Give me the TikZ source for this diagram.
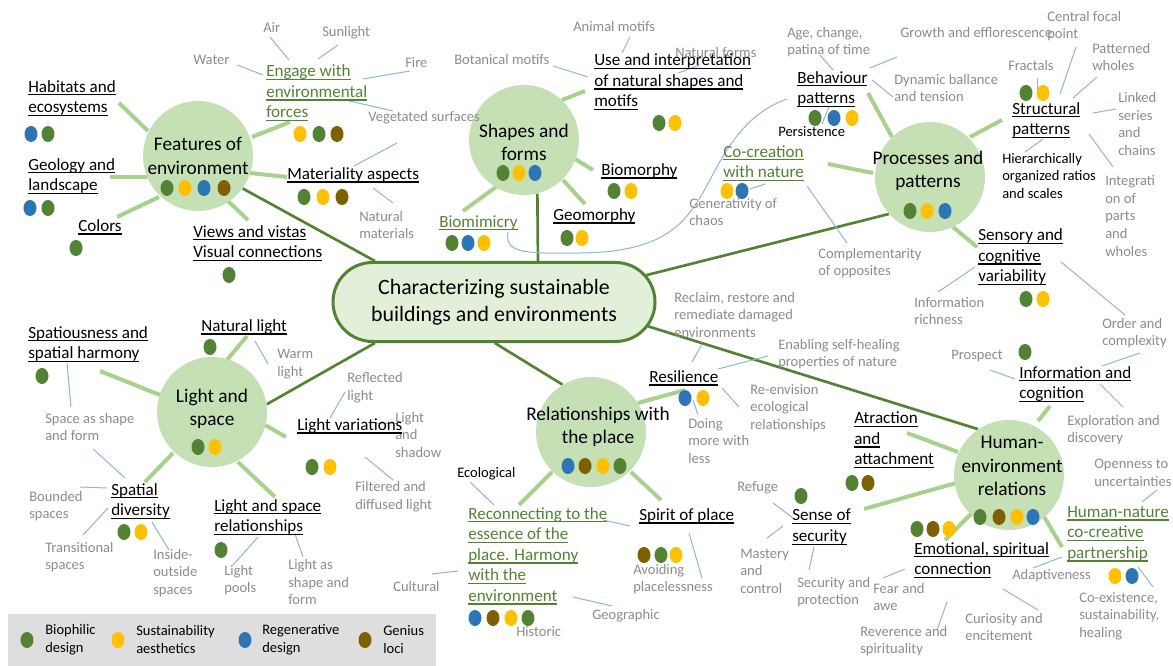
\documentclass[tikz,border=0pt]{standalone}
\usepackage{fontspec}
\setmainfont{Carlito}
\usetikzlibrary{shapes.geometric,shapes.misc,backgrounds}
\definecolor{cG}{HTML}{548235}
\definecolor{cY}{HTML}{FFC000}
\definecolor{cB}{HTML}{2E75B6}
\definecolor{cBn}{HTML}{7F6000}
\definecolor{cCirc}{HTML}{C5E0B4}
\definecolor{cBranch}{HTML}{A9D18E}
\definecolor{cCen}{HTML}{E2F0D9}
\definecolor{cThin}{HTML}{8FB4DE}
\definecolor{cGray}{HTML}{8C8C8C}
\definecolor{cLeg}{HTML}{DEDEDE}
\newcommand\ulx[1]{\setbox0\hbox{#1}\rlap{\rule[-2.4pt]{\wd0}{0.9pt}}\box0}
\newcommand\mainf{\fontsize{12.8}{15.4}\selectfont}
\newcommand\grayf{\fontsize{10.9}{13.2}\selectfont}
\newcommand\legf{\fontsize{10.9}{13.5}\selectfont}
\newcommand\circf{\fontsize{14.5}{17.4}\selectfont}
\newcommand\cenf{\fontsize{16.4}{20.2}\selectfont}
\newcommand\dt[3]{\node[dot,fill=#1] (d#2x#3) at (#2,#3) {};}
\tikzset{
 lbl/.style={anchor=west, inner sep=0pt, align=left, font=\mainf},
 glbl/.style={lbl, font=\grayf, text=cGray},
 blbl/.style={lbl, font=\grayf},
 grn/.style={lbl, text=cG},
 circ/.style={circle, fill=cCirc, minimum size=82.5pt, inner sep=0pt},
 ctxt/.style={align=center, font=\circf, inner sep=0pt},
 dot/.style={ellipse, minimum width=9.75pt, minimum height=12pt, inner sep=0pt},
 brl/.style={draw=cBranch, line width=3pt},
 dkl/.style={draw=cG, line width=2pt},
 thn/.style={draw=cThin, line width=0.75pt},
}
\begin{document}
\begin{tikzpicture}[x=0.75pt,y=-0.75pt]
\useasboundingbox (0,0) rectangle (1173,666);
% legend background
\fill[cLeg] (8,614) rectangle (436,666);

% centre and theme circles
\node[rounded rectangle, draw=cG, line width=2.25pt, fill=cCen, minimum width=241.5pt, minimum height=59.25pt, inner sep=0pt, align=center, font=\cenf] (ctr) at (494,302) {Characterizing sustainable\\buildings and environments};
\node[circ] (feat) at (198,156) {};
\node[circ] (shp) at (524,140) {};
\node[circ] (proc) at (930,177) {};
\node[circ] (lsp) at (212,412) {};
\node[circ] (rel) at (591,432) {};
\node[circ] (hum) at (1009,475) {};

\begin{scope}[on background layer]
% dark connectors
\draw[dkl] (feat.-36) -- (ctr.161);
\draw[dkl] (shp.-76) -- (ctr.43);
\draw[dkl] (proc.-138) -- (ctr.10);
\draw[dkl] (lsp.8) -- (ctr.199);
\draw[dkl] (rel.121) -- (ctr.-89);
\draw[dkl] (hum.124) -- (ctr.-9);
% branch connectors
\draw[brl] (119,103) -- (148,131);
\draw[brl] (110,177) -- (147,177);
\draw[brl] (117,217) -- (159,197);
\draw[brl] (228,201) -- (248,220);
\draw[brl] (250,173) -- (287,177);
\draw[brl] (252,137) -- (290,122);
\draw[brl] (562,100) -- (585,91);
\draw[brl] (575,159) -- (593,170);
\draw[brl] (563,180) -- (585,204);
\draw[brl] (496,187) -- (463,211);
\draw[brl] (868,93) -- (892,137);
\draw[brl] (970,137) -- (1002,120);
\draw[brl] (828,164) -- (873,173);
\draw[brl] (953,227) -- (977,247);
\draw[brl] (227,360) -- (247,336);
\draw[brl] (100,371) -- (160,395);
\draw[brl] (265,425) -- (286,437);
\draw[brl] (173,453) -- (145,482);
\draw[brl] (238,462) -- (275,497);
\draw[brl] (638,403) -- (685,390);
\draw[brl] (552,472) -- (519,505);
\draw[brl] (631,472) -- (661,500);
\draw[brl] (1038,421) -- (1050,406);
\draw[brl] (907,433) -- (958,452);
\draw[brl] (864,509) -- (956,483);
\draw[brl] (945,540) -- (973,512);
\draw[brl] (1043,515) -- (1062,547);
% thin connectors
\draw[thn] (270,37) -- (289,60);
\draw[thn] (338,45) -- (318,59);
\draw[thn] (237,65) -- (263,75);
\draw[thn] (363,79) -- (410,71);
\draw[thn] (345,100) -- (393,111);
\draw[thn] (354,166) -- (397,143);
\draw[thn] (373,188) -- (393,203);
\draw[thn] (630,37) -- (622,53);
\draw[thn] (553,66) -- (588,77);
\draw[thn] (678,73) -- (700,65);
\draw[thn] (508,232) .. controls (505,252) and (520,254) .. (580,253) .. controls (680,252) and (692,212) .. (718,165) .. controls (740,125) and (762,108) .. (787,99);
\draw[thn] (820,55) -- (833,70);
\draw[thn] (870,68) -- (897,57);
\draw[thn] (872,80) -- (893,97);
\draw[thn] (822,124) -- (829,107);
\draw[thn] (1037,78) -- (1037,90);
\draw[thn] (1076,47) -- (1060,94);
\draw[thn] (1097,77) -- (1073,98);
\draw[thn] (1093,113) -- (1116,109);
\draw[thn] (1089,134) -- (1113,167);
\draw[thn] (1043,139) -- (1025,152);
\draw[thn] (750,189) -- (765,184);
\draw[thn] (807,186) -- (847,243);
\draw[thn] (938,292) -- (975,267);
\draw[thn] (1061,262) -- (1125,315);
\draw[thn] (990,370) -- (1015,379);
\draw[thn] (1102,366) -- (1140,353);
\draw[thn] (1100,384) -- (1123,407);
\draw[thn] (1157,490) -- (1142,502);
\draw[thn] (1033,568) -- (1062,557);
\draw[thn] (1138,567) -- (1153,587);
\draw[thn] (883,578) -- (905,569);
\draw[thn] (937,630) -- (947,602);
\draw[thn] (1003,589) -- (1038,610);
\draw[thn] (773,503) -- (793,518);
\draw[thn] (767,538) -- (783,526);
\draw[thn] (814,547) -- (809,570);
\draw[thn] (692,362) -- (702,344);
\draw[thn] (718,369) -- (768,356);
\draw[thn] (722,388) -- (739,407);
\draw[thn] (693,400) -- (698,415);
\draw[thn] (470,482) -- (494,505);
\draw[thn] (432,574) -- (458,571);
\draw[thn] (573,597) -- (612,606);
\draw[thn] (603,520) -- (630,526);
\draw[thn] (689,533) -- (702,578);
\draw[thn] (255,341) -- (268,364);
\draw[thn] (345,392) -- (330,418);
\draw[thn] (377,423) -- (397,423);
\draw[thn] (365,457) -- (393,480);
\draw[thn] (67,363) -- (71,407);
\draw[thn] (93,449) -- (125,478);
\draw[thn] (80,487) -- (107,488);
\draw[thn] (83,535) -- (108,508);
\draw[thn] (152,522) -- (169,550);
\draw[thn] (233,565) -- (258,537);
\draw[thn] (295,534) -- (303,557);
\end{scope}

% circle titles
\node[ctxt] (featT) at (198,156) {Features of\\environment};
\node[ctxt] (shpT) at (524,142) {Shapes and\\forms};
\node[ctxt] (procT) at (928,171) {Processes and\\patterns};
\node[ctxt] (lspT) at (212,409) {Light and\\space};
\node[ctxt] (relT) at (598,427) {Relationships with\\the place};
\node[ctxt] (humT) at (1012,466) {Human-\\environment\\relations};

% Features of environment
\node[lbl] (hab) at (28,98) {\ulx{Habitats and}\\\ulx{ecosystems}};
\node[lbl] (geo) at (28,176) {\ulx{Geology and}\\\ulx{landscape}};
\node[lbl] (col) at (78,227) {\ulx{Colors}};
\node[lbl] (vie) at (193,243) {\ulx{Views and vistas}\\\ulx{Visual connections}};
\node[lbl] (mat) at (287,175) {\ulx{Materiality aspects}};
\node[grn] (eng) at (266,93) {\ulx{Engage with}\\\ulx{environmental}\\\ulx{forces}};
\node[glbl] (air) at (263,28) {Air};
\node[glbl] (sun) at (322,33) {Sunlight};
\node[glbl] (wat) at (193,60) {Water};
\node[glbl] (fir) at (405,63) {Fire};
\node[glbl] (veg) at (368,118) {Vegetated surfaces};
\node[glbl] (nat) at (359,225) {Natural\\materials};

% Shapes and forms
\node[glbl] (ani) at (573,27) {Animal motifs};
\node[glbl] (bot) at (454,60) {Botanical motifs};
\node[glbl] (nfo) at (675,53) {Natural forms};
\node[lbl] (use) at (594,82) {\ulx{Use and interpretation}\\\ulx{of natural shapes and}\\\ulx{motifs}};
\node[lbl] (bmo) at (601,171) {\ulx{Biomorphy}};
\node[lbl] (gmo) at (553,216) {\ulx{Geomorphy}};
\node[grn] (bmi) at (439,223) {\ulx{Biomimicry}};

% Processes and patterns
\node[grn] (cocr) at (723,163) {\ulx{Co-creation}\\\ulx{with nature}};
\node[glbl] (gen) at (689,212) {Generativity of\\chaos};
\node[glbl] (age) at (787,42) {Age, change,\\patina of time};
\node[glbl] (gro) at (900,33) {Growth and efflorescence};
\node[glbl] (cfp) at (1047,26) {Central focal\\point};
\node[glbl] (pwh) at (1092,57) {Patterned\\wholes};
\node[glbl] (fra) at (1008,66) {Fractals};
\node[glbl] (dyn) at (894,88) {Dynamic ballance\\and tension};
\node[lbl] (beh) at (797,89) {\ulx{Behaviour}\\\ulx{patterns}};
\node[blbl] (per) at (778,132) {Persistence};
\node[lbl] (str) at (1012,120) {\ulx{Structural}\\\ulx{patterns}};
\node[glbl] (lin) at (1118,124) {Linked\\series\\and\\chains};
\node[blbl] (hie) at (1002,176) {Hierarchically\\organized ratios\\and scales};
\node[glbl] (int) at (1105,216) {Integrati\\on of\\parts\\and\\wholes};
\node[glbl] (com) at (818,263) {Complementarity\\of opposites};
\node[lbl] (sen) at (978,257) {\ulx{Sensory and}\\\ulx{cognitive}\\\ulx{variability}};
\node[glbl] (inr) at (914,311) {Information\\richness};
\node[glbl] (ord) at (1102,333) {Order and\\complexity};

% Light and space
\node[lbl] (spa) at (28,344) {\ulx{Spatiousness and}\\\ulx{spatial harmony}};
\node[lbl] (nli) at (201,327) {\ulx{Natural light}};
\node[glbl] (war) at (277,364) {Warm\\light};
\node[glbl] (ref) at (347,388) {Reflected\\light};
\node[glbl] (las) at (395,435) {Light\\and\\shadow};
\node[lbl] (lva) at (297,426) {\ulx{Light variations}};
\node[glbl] (fil) at (355,497) {Filtered and\\diffused light};
\node[glbl] (ssf) at (45,427) {Space as shape\\and form};
\node[lbl] (sdi) at (111,501) {\ulx{Spatial}\\\ulx{diversity}};
\node[glbl] (bou) at (29,506) {Bounded\\spaces};
\node[glbl] (tra) at (45,557) {Transitional\\spaces};
\node[glbl] (ins) at (153,573) {Inside-\\outside\\spaces};
\node[lbl] (lsr) at (214,517) {\ulx{Light and space}\\\ulx{relationships}};
\node[glbl] (lpo) at (224,580) {Light\\pools};
\node[glbl] (lsh) at (288,582) {Light as\\shape and\\form};

% Relationships with the place
\node[glbl] (rec) at (674,315) {Reclaim, restore and\\remediate damaged\\environments};
\node[glbl] (ena) at (778,354) {Enabling self-healing\\properties of nature};
\node[lbl] (res) at (649,378) {\ulx{Resilience}};
\node[glbl] (ree) at (750,408) {Re-envision\\ecological\\relationships};
\node[glbl] (doi) at (688,441) {Doing\\more with\\less};
\node[blbl] (eco) at (457,474) {Ecological};
\node[grn] (rcn) at (468,556) {\ulx{Reconnecting to the}\\\ulx{essence of the}\\\ulx{place. Harmony}\\\ulx{with the}\\\ulx{environment}};
\node[glbl] (his) at (516,632) {Historic};
\node[glbl] (gge) at (592,616) {Geographic};
\node[glbl] (cul) at (393,587) {Cultural};
\node[lbl] (spi) at (639,516) {\ulx{Spirit of place}};
\node[glbl] (avo) at (633,579) {Avoiding\\placelessness};

% Human-environment relations
\node[glbl] (pro) at (951,356) {Prospect};
\node[lbl] (inf) at (1019,384) {\ulx{Information and}\\\ulx{cognition}};
\node[glbl] (exp) at (1067,430) {Exploration and\\discovery};
\node[lbl] (att) at (854,440) {\ulx{Atraction}\\\ulx{and}\\\ulx{attachment}};
\node[glbl] (ope) at (1094,473) {Openness to\\uncertainties};
\node[grn] (hnp) at (1067,534) {\ulx{Human-nature}\\\ulx{co-creative}\\\ulx{partnership}};
\node[glbl] (ada) at (1012,576) {Adaptiveness};
\node[glbl] (coe) at (1079,616) {Co-existence,\\sustainability,\\healing};
\node[glbl] (rfg) at (737,488) {Refuge};
\node[lbl] (sos) at (792,527) {\ulx{Sense of}\\\ulx{security}};
\node[glbl] (mas) at (740,571) {Mastery\\and\\control};
\node[glbl] (sap) at (797,592) {Security and\\protection};
\node[lbl] (emo) at (914,560) {\ulx{Emotional, spiritual}\\\ulx{connection}};
\node[glbl] (fea) at (873,597) {Fear and\\awe};
\node[glbl] (rev) at (860,641) {Reverence and\\spirituality};
\node[glbl] (cur) at (965,627) {Curiosity and\\encitement};

% legend
\node[lbl, font=\legf] (lg1) at (45,640) {Biophilic\\design};
\node[lbl, font=\legf] (lg2) at (136,640) {Sustainability\\aesthetics};
\node[lbl, font=\legf] (lg3) at (262,640) {Regenerative\\design};
\node[lbl, font=\legf] (lg4) at (383,640) {Genius\\loci};

% dots
\dt{cG}{167}{188}\dt{cY}{185}{188}\dt{cB}{204}{188}\dt{cBn}{224}{188}
\dt{cB}{31}{134}\dt{cG}{48}{134}
\dt{cB}{30}{208}\dt{cG}{48}{208}
\dt{cG}{76}{248}
\dt{cG}{229}{275}
\dt{cG}{304}{197}\dt{cY}{323}{197}\dt{cBn}{342}{197}
\dt{cY}{300}{134}\dt{cG}{319}{134}\dt{cBn}{337}{134}
\dt{cG}{503}{173}\dt{cY}{519}{173}\dt{cB}{535}{173}
\dt{cG}{659}{123}\dt{cY}{675}{123}
\dt{cG}{614}{191}\dt{cY}{631}{191}
\dt{cG}{567}{238}\dt{cY}{582}{238}
\dt{cG}{452}{243}\dt{cB}{468}{243}\dt{cY}{484}{243}
\dt{cY}{727}{191}\dt{cB}{742}{191}
\dt{cG}{910}{211}\dt{cY}{927}{211}\dt{cB}{945}{211}
\dt{cG}{815}{118}\dt{cB}{834}{118}\dt{cY}{852}{118}
\dt{cG}{1026}{93}\dt{cY}{1043}{93}
\dt{cG}{1026}{299}\dt{cY}{1043}{299}
\dt{cG}{198}{447}\dt{cY}{215}{447}
\dt{cG}{42}{376}
\dt{cG}{210}{347}
\dt{cG}{312}{467}\dt{cY}{330}{467}
\dt{cG}{124}{532}\dt{cY}{141}{532}
\dt{cG}{221}{550}
\dt{cB}{568}{466}\dt{cBn}{585}{466}\dt{cY}{603}{466}\dt{cG}{620}{466}
\dt{cB}{685}{398}\dt{cY}{703}{398}
\dt{cB}{475}{618}\dt{cBn}{493}{618}\dt{cY}{511}{618}\dt{cG}{528}{618}
\dt{cBn}{644}{555}\dt{cG}{661}{555}\dt{cY}{676}{555}
\dt{cG}{980}{517}\dt{cBn}{999}{517}\dt{cY}{1017}{517}\dt{cB}{1033}{517}
\dt{cG}{1025}{352}
\dt{cG}{852}{483}\dt{cBn}{868}{483}
\dt{cY}{1115}{576}\dt{cB}{1132}{576}
\dt{cG}{801}{496}
\dt{cG}{917}{529}\dt{cBn}{933}{529}\dt{cY}{949}{529}
\dt{cG}{27}{640}\dt{cY}{118}{640}\dt{cB}{245}{640}\dt{cBn}{365}{640}
\end{tikzpicture}
\end{document}
